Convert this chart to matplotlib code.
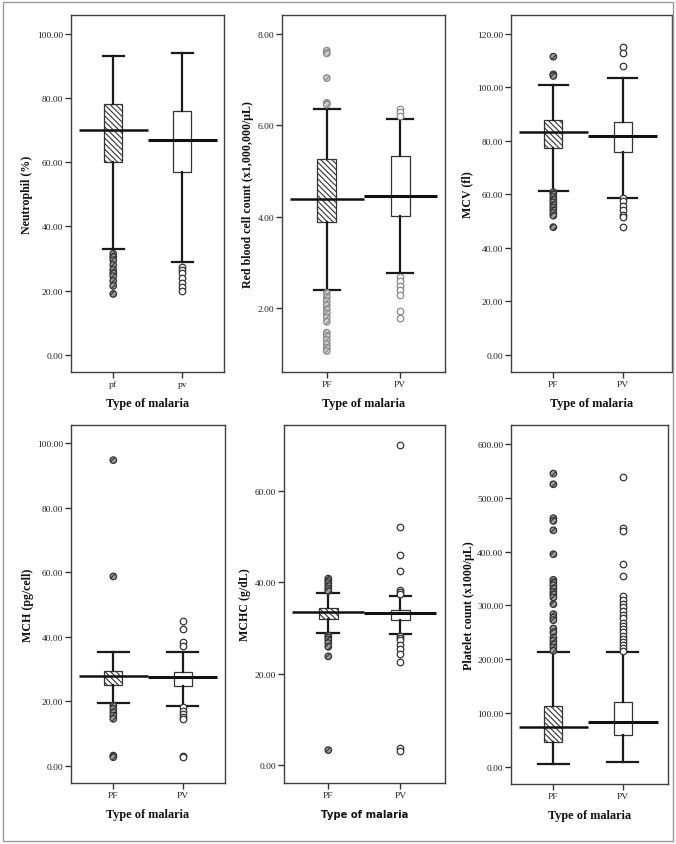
import matplotlib
matplotlib.use("Agg")
import matplotlib.pyplot as plt
import numpy as np
from matplotlib.patches import Rectangle
from matplotlib.ticker import FormatStrFormatter

plt.rcParams["font.family"] = ["Liberation Serif", "DejaVu Serif"]
plt.rcParams["hatch.color"] = "#3a3a3a"
plt.rcParams["hatch.linewidth"] = 0.8

W, H = 676, 845

GROUPS_LOWER = ["pf", "pv"]
GROUPS = ["PF", "PV"]

# five-number summaries: lower whisker, Q1, median, Q3, upper whisker
NEUT_PF = [33.0, 60.0, 70.0, 78.0, 93.0]
NEUT_PV = [29.0, 57.0, 67.0, 76.0, 94.0]
NEUT_PF_OUT = [31.5, 30.5, 29.5, 28.0, 26.5, 25.5, 24.5, 23.0, 21.5, 19.0]
NEUT_PV_OUT = [27.5, 26.5, 25.5, 24.0, 22.5, 21.0, 20.0]

RBC_PF = [2.39, 3.88, 4.39, 5.27, 6.35]
RBC_PV = [2.77, 4.02, 4.44, 5.32, 6.14]
RBC_PF_OUT = [7.63, 7.57, 7.03, 6.49, 6.45, 2.33, 2.24, 2.15, 2.06, 1.97, 1.88,
              1.79, 1.70, 1.46, 1.39, 1.30, 1.21, 1.13, 1.06]
RBC_PV_OUT = [6.35, 6.28, 6.21, 2.68, 2.59, 2.48, 2.39, 2.28, 1.93, 1.79]

MCV_PF = [61.4, 77.2, 83.2, 87.9, 100.8]
MCV_PV = [58.6, 75.7, 81.9, 86.9, 103.6]
MCV_PF_OUT = [111.5, 104.9, 104.3, 60.8, 60.0, 59.0, 58.0, 57.0, 56.0, 55.0,
              54.0, 53.0, 52.0, 47.7]
MCV_PV_OUT = [115.1, 113.0, 108.0, 58.5, 57.6, 55.8, 54.3, 52.3, 51.4, 47.7]

MCH_PF = [19.3, 25.1, 27.7, 29.4, 35.4]
MCH_PV = [18.4, 24.6, 27.4, 28.9, 35.3]
MCH_PF_OUT = [94.8, 58.7, 18.6, 17.6, 16.5, 15.5, 14.5, 3.1, 2.6]
MCH_PV_OUT = [45.0, 42.4, 38.4, 37.2, 18.1, 17.0, 16.0, 15.0, 14.5, 3.1, 2.6]

MCHC_PF = [28.9, 31.9, 33.4, 34.3, 37.6]
MCHC_PV = [28.7, 31.8, 33.2, 34.0, 37.0]
MCHC_PF_OUT = [40.8, 40.3, 39.8, 39.2, 38.6, 38.1, 28.4, 27.9, 27.4, 26.7,
               25.9, 23.8, 3.3]
MCHC_PV_OUT = [70.0, 52.1, 46.0, 42.5, 38.4, 37.9, 37.4, 28.3, 27.9, 27.3,
               26.2, 25.4, 24.4, 22.6, 3.7, 3.2]

PLT_PF = [5.0, 45.2, 73.1, 112.2, 212.6]
PLT_PV = [9.3, 58.9, 83.7, 120.9, 212.6]
PLT_PF_OUT = [545.5, 525.6, 462.4, 457.4, 440.0, 395.4, 347.7, 342.8, 337.8,
              331.6, 325.4, 321.0, 314.9, 302.5, 283.9, 277.7, 272.7, 257.2,
              249.8, 240.5, 234.3, 228.1, 221.9, 215.7]
PLT_PV_OUT = [539.2, 445.0, 438.8, 376.9, 354.0, 318.0, 310.0, 303.0, 297.0,
              290.0, 283.0, 276.0, 268.0, 262.0, 256.0, 250.0, 244.0, 238.0,
              232.0, 226.0, 220.0, 216.0]


def px_box(x0, y0, x1, y1):
    return [x0 / W, 1 - y1 / H, (x1 - x0) / W, (y1 - y0) / H]


PANELS = [
    dict(box=(71, 16, 224, 373), pf=NEUT_PF, pv=NEUT_PV, pf_out=NEUT_PF_OUT,
         pv_out=NEUT_PV_OUT, ylabel="Neutrophil (%)", ylim=(-5.3, 105.8),
         yticks=[0, 20, 40, 60, 80, 100], xlim=(0.39, 2.6), labels=GROUPS_LOWER,
         cap=0.3, ylab_x=-0.29, out_color="#333333", out_face="#9c9c9c", sans=False),
    dict(box=(282, 16, 445, 373), pf=RBC_PF, pv=RBC_PV, pf_out=RBC_PF_OUT,
         pv_out=RBC_PV_OUT, ylabel="Red blood cell count (x1,000,000/\u03bcL)",
         ylim=(0.6, 8.41), yticks=[2, 4, 6, 8], xlim=(0.39, 2.61), labels=GROUPS,
         cap=0.35, ylab_x=-0.21, out_color="#8a8a8a", out_face="#cfcfcf", sans=False),
    dict(box=(511, 16, 672, 373), pf=MCV_PF, pv=MCV_PV, pf_out=MCV_PF_OUT,
         pv_out=MCV_PV_OUT, ylabel="MCV (fl)", ylim=(-6.5, 127.1),
         yticks=[0, 20, 40, 60, 80, 100, 120], xlim=(0.39, 2.71), labels=GROUPS,
         cap=0.42, ylab_x=-0.27, out_color="#333333", out_face="#9c9c9c", sans=False),
    dict(box=(71, 426, 225, 784), pf=MCH_PF, pv=MCH_PV, pf_out=MCH_PF_OUT,
         pv_out=MCH_PV_OUT, ylabel="MCH (pg/cell)", ylim=(-5.4, 105.7),
         yticks=[0, 20, 40, 60, 80, 100], xlim=(0.39, 2.61), labels=GROUPS,
         cap=0.45, ylab_x=-0.28, out_color="#333333", out_face="#9c9c9c", sans=False),
    dict(box=(284, 426, 445, 784), pf=MCHC_PF, pv=MCHC_PV, pf_out=MCHC_PF_OUT,
         pv_out=MCHC_PV_OUT, ylabel="MCHC (g/dL)", ylim=(-3.9, 74.4),
         yticks=[0, 20, 40, 60], xlim=(0.385, 2.62), labels=GROUPS,
         cap=0.3, ylab_x=-0.24, out_color="#333333", out_face="#9c9c9c", sans=True),
    dict(box=(511, 426, 668, 785), pf=PLT_PF, pv=PLT_PV, pf_out=PLT_PF_OUT,
         pv_out=PLT_PV_OUT, ylabel="Platelet count (x1000/\u03bcL)",
         ylim=(-32.2, 635.9), yticks=[0, 100, 200, 300, 400, 500, 600],
         xlim=(0.39, 2.65), labels=GROUPS, cap=0.45, ylab_x=-0.27,
         out_color="#333333", out_face="#9c9c9c", sans=False),
]


def draw_panel(fig, p):
    ax = fig.add_axes(px_box(*p["box"]))
    stats = []
    for s in (p["pf"], p["pv"]):
        stats.append(dict(whislo=s[0], q1=s[1], med=s[2], q3=s[3], whishi=s[4], fliers=[]))
    bp = ax.bxp(stats, positions=[1, 2], widths=0.26, capwidths=p["cap"],
                patch_artist=True, showfliers=False,
                boxprops=dict(linewidth=0.9, edgecolor="#333333", facecolor="white"),
                whiskerprops=dict(linewidth=1.6, color="#1a1a1a"),
                capprops=dict(linewidth=1.6, color="#1a1a1a"),
                medianprops=dict(visible=False))
    bp["boxes"][0].set_hatch("\\\\\\\\\\\\")

    # median reference lines span the whole category slot
    ax.hlines(p["pf"][2], 0.5, 1.5, color="#111111", linewidth=1.8, zorder=4)
    ax.hlines(p["pv"][2], 1.5, 2.5, color="#111111", linewidth=2.2, zorder=4)

    ax.scatter(np.full(len(p["pf_out"]), 1.0), p["pf_out"], s=22, facecolor=p["out_face"],
               edgecolor=p["out_color"], linewidth=0.9, hatch="//////", zorder=3)
    ax.scatter(np.full(len(p["pv_out"]), 2.0), p["pv_out"], s=22, facecolor="white",
               edgecolor=p["out_color"], linewidth=0.9, zorder=3)

    ax.set_xlim(*p["xlim"])
    ax.set_ylim(*p["ylim"])
    ax.set_xticks([1, 2])
    ax.set_xticklabels(p["labels"])
    ax.set_yticks(p["yticks"])
    ax.yaxis.set_major_formatter(FormatStrFormatter("%.2f"))
    ax.tick_params(direction="out", length=4, width=1, labelsize=6.8,
                   color="#333333", labelcolor="#222222", pad=1.5)
    for sp in ax.spines.values():
        sp.set_color("#404040")
        sp.set_linewidth(1.0)

    ax.set_ylabel(p["ylabel"], fontsize=8.6, fontweight="bold", color="#111111")
    ax.yaxis.set_label_coords(p["ylab_x"], 0.5)
    ax.yaxis.label.set_va("center")

    if p["sans"]:
        ax.set_xlabel("Type of malaria", fontsize=7.2, fontweight="bold",
                      family="DejaVu Sans", color="#111111")
    else:
        ax.set_xlabel("Type of malaria", fontsize=8.8, fontweight="bold", color="#111111")
    h = p["box"][3] - p["box"][1]
    ax.xaxis.set_label_coords(0.5, -31 / h)
    ax.xaxis.label.set_va("center")
    return ax


def main():
    fig = plt.figure(figsize=(W / 100, H / 100), dpi=100)
    fig.add_artist(Rectangle((3 / W, 3 / H), 670 / W, 839 / H, transform=fig.transFigure,
                             fill=False, edgecolor="#9a9a9a", linewidth=1.0))
    for p in PANELS:
        draw_panel(fig, p)
    fig.savefig("out.png", dpi=100)
    plt.close(fig)


if __name__ == "__main__":
    main()
